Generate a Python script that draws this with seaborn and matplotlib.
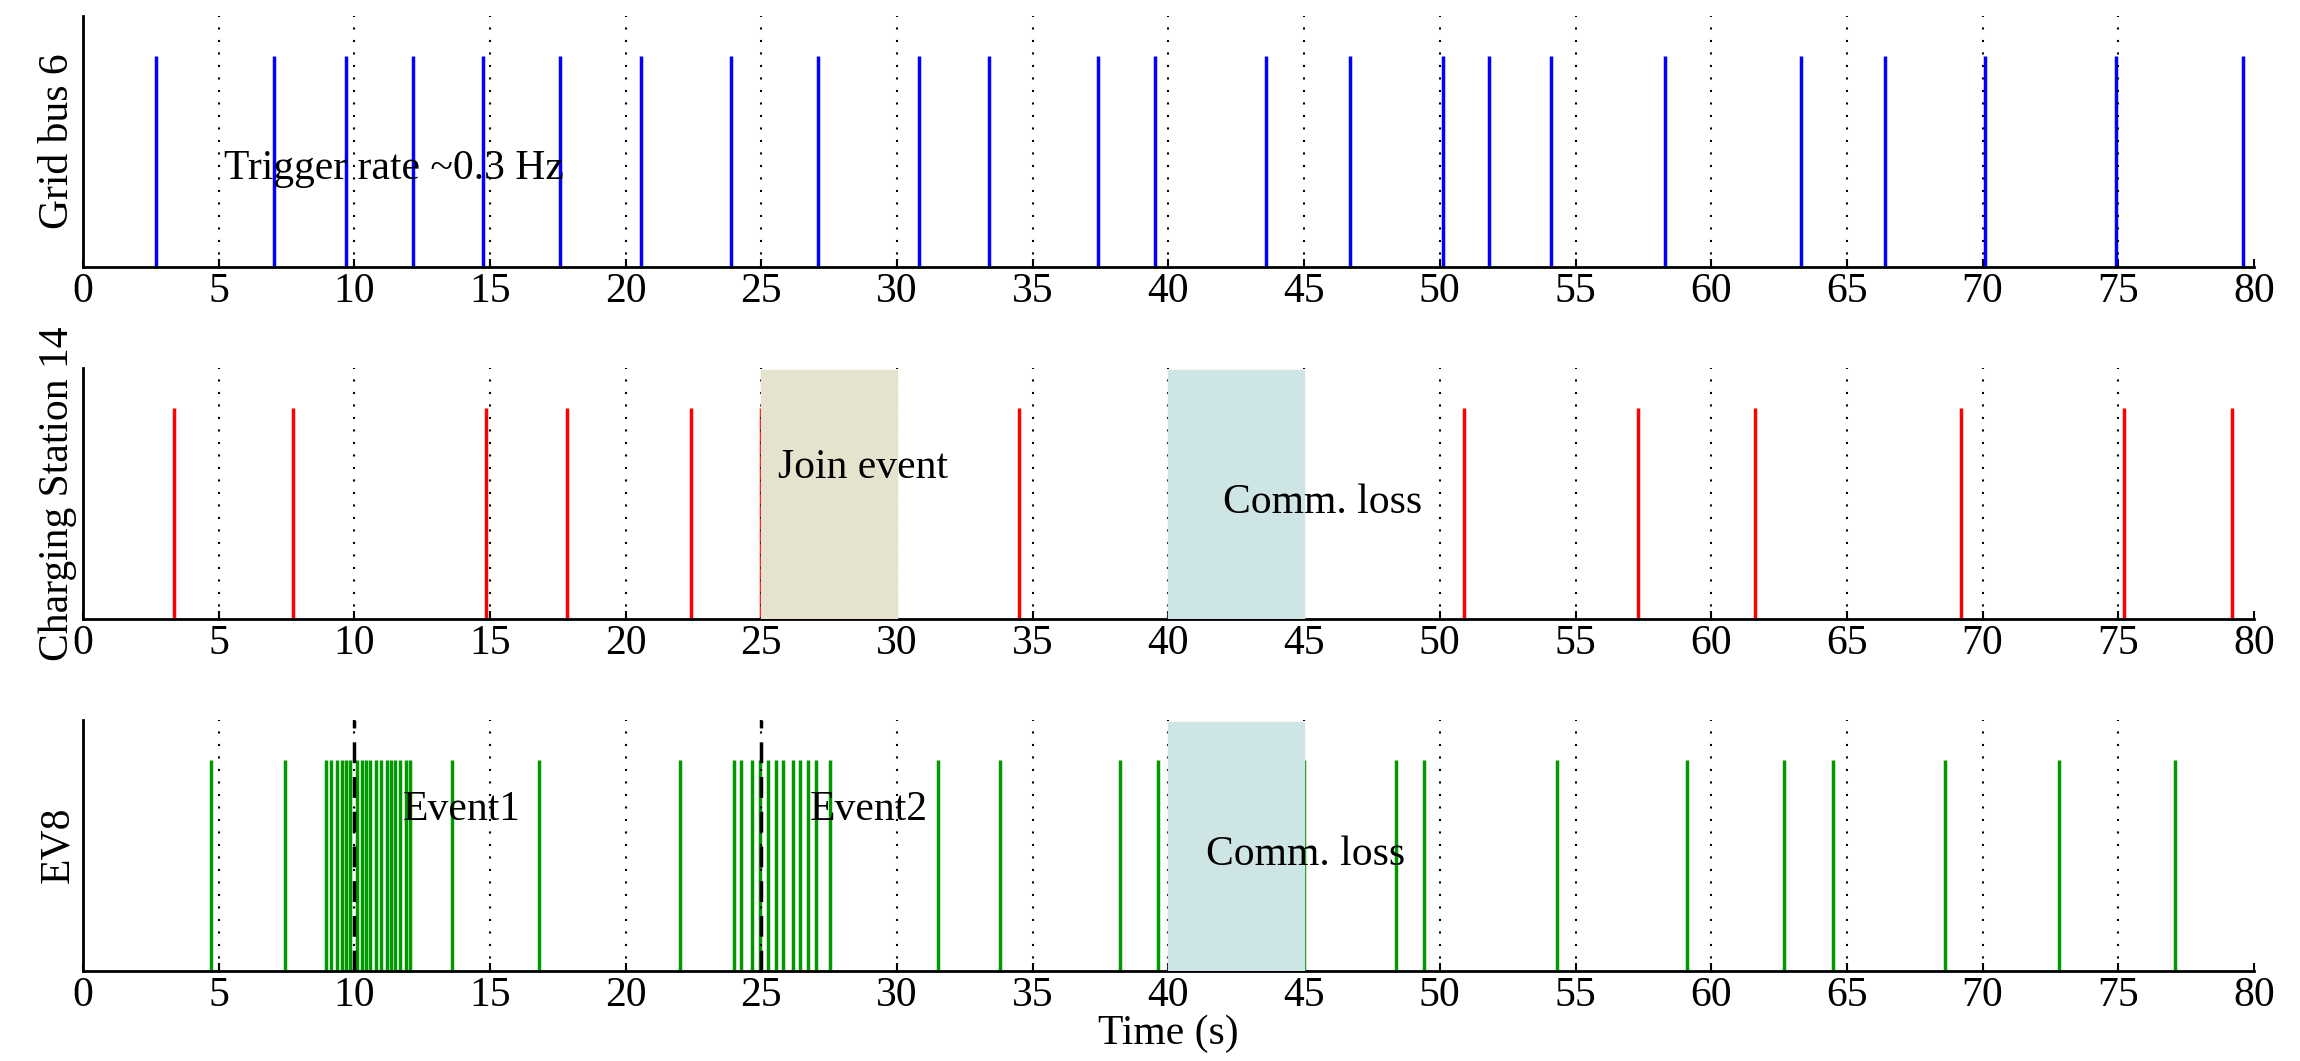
import matplotlib
matplotlib.use("Agg")
import matplotlib.pyplot as plt
import seaborn as sns

sns.set_style("ticks")
plt.rcParams['font.family'] = ['Liberation Serif', 'DejaVu Serif']
plt.rcParams['text.color'] = 'black'
plt.rcParams['axes.labelcolor'] = 'black'
plt.rcParams['xtick.color'] = 'black'
plt.rcParams['axes.edgecolor'] = 'black'

grid_bus6 = [2.7, 7.06, 9.71, 12.15, 14.75, 17.57, 20.55, 23.9, 27.1, 30.8, 33.4, 37.4,
             39.5, 43.6, 46.7, 50.1, 51.8, 54.1, 58.3, 63.3, 66.4, 70.1, 74.9, 79.6]
station14 = [3.37, 7.76, 14.86, 17.84, 22.4, 25.0, 34.5, 40.05, 50.9, 57.3, 61.6, 69.2, 75.2, 79.2]
ev8 = [4.74, 7.45,
       8.95, 9.15, 9.35, 9.55, 9.7, 9.85, 10.1, 10.3, 10.45, 10.6, 10.8, 11.0, 11.2, 11.35,
       11.5, 11.7, 11.9, 12.05,
       13.6, 16.8, 22.0,
       24.0, 24.24, 24.64, 24.94, 25.24, 25.53, 25.79, 26.16, 26.42, 26.71, 27.0, 27.52,
       31.5, 33.8, 38.2, 39.6, 45.0, 48.4, 49.4, 54.3, 59.1, 62.7, 64.5, 68.6, 72.8, 77.1]
ev_markers = [10.0, 25.0]
join_span = (25, 30)
loss_span = (40, 45)

fig, axes = plt.subplots(3, 1, figsize=(23, 10.61), dpi=100)
fig.subplots_adjust(left=0.036, right=0.98, top=0.985, bottom=0.085, hspace=0.4)

rows = [(grid_bus6, "#0000ff", "Grid bus 6"),
        (station14, "#ff0000", "Charging Station 14"),
        (ev8, "#009900", "EV8")]
for ax, (times, col, label) in zip(axes, rows):
    ax.vlines(times, 0, 0.84, color=col, lw=2.5)
    for t in range(5, 80, 5):
        ax.axvline(t, color="black", ls=(0, (1, 5)), lw=1.5)
    ax.set_xlim(0, 80)
    ax.set_ylim(0, 1)
    ax.set_yticks([])
    ax.set_xticks(range(0, 81, 5))
    ax.tick_params(axis="x", labelsize=30, direction="in", length=6, width=1.5, pad=4)
    ax.set_ylabel(label, fontsize=30, labelpad=4)
    for s in ["top", "right"]:
        ax.spines[s].set_visible(False)
    for s in ["left", "bottom"]:
        ax.spines[s].set_linewidth(2)

axes[0].text(5.2, 0.35, "Trigger rate ~0.3 Hz", fontsize=30)

axes[1].axvspan(*join_span, ymax=0.99, color="#e5e3cd", zorder=3)
axes[1].axvspan(*loss_span, ymax=0.99, color="#cde5e5", zorder=3)
axes[1].text(25.6, 0.56, "Join event", fontsize=30, zorder=4)
axes[1].text(42.0, 0.42, "Comm. loss", fontsize=30, zorder=4)

axes[2].axvspan(*loss_span, ymax=0.99, color="#cde5e5", zorder=3)
axes[2].text(41.4, 0.42, "Comm. loss", fontsize=30, zorder=4)
axes[2].vlines(ev_markers, 0, 1, color="black", lw=2.5, ls=(0, (6, 4)), zorder=4)
axes[2].text(11.8, 0.6, "Event1", fontsize=30)
axes[2].text(26.8, 0.6, "Event2", fontsize=30)
axes[2].set_xlabel("Time (s)", fontsize=30, labelpad=0)

fig.savefig("out.png")
